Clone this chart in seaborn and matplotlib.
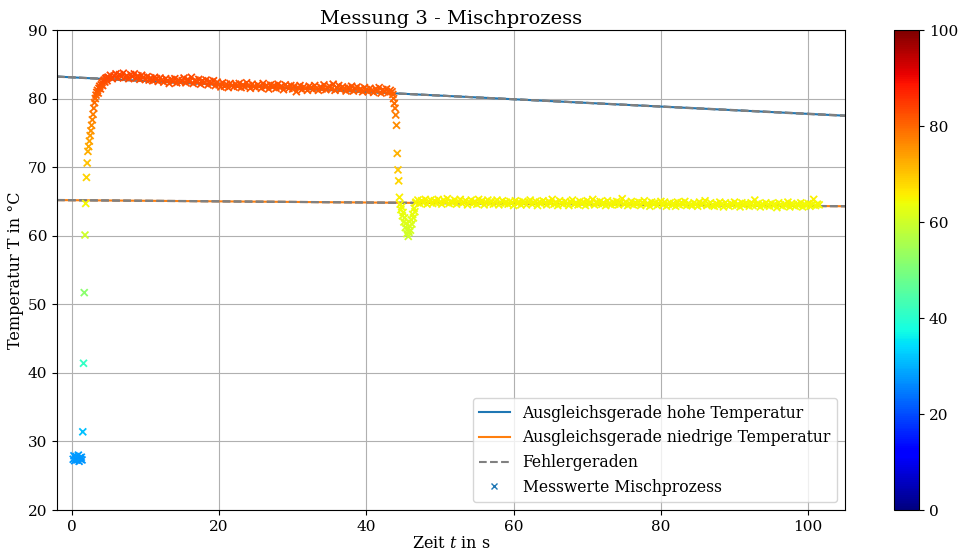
import numpy as np
import matplotlib
matplotlib.use("Agg")
import matplotlib.pyplot as plt
from matplotlib.lines import Line2D
import seaborn as sns
import pandas as pd

plt.rcParams['font.family'] = ['DejaVu Serif']
plt.rcParams['mathtext.fontset'] = 'dejavuserif'
plt.rcParams['font.size'] = 11

# ---- data ----
# cold phase: t0 = 0.2 s, dt = 0.1 s
t_kalt_start, dt_kalt = 0.2, 0.1
T_kalt = [27.4, 27.9, 27.2, 27.6, 27.8, 27.3, 27.5, 28.0, 27.1, 27.6, 27.4, 27.7, 27.3]

# rise: t0 = 1.5 s, dt = 0.1 s
t_anstieg_start, dt_anstieg = 1.5, 0.1
T_anstieg = [31.4, 41.4, 51.7, 60.1, 64.7, 68.5, 70.6, 72.3, 73.0, 73.8,
             74.6, 75.3, 76.1, 76.9, 77.7, 78.6, 79.4, 80.0, 80.5, 80.9,
             81.2, 80.8, 81.5, 81.8, 81.4, 82.0, 82.3, 81.9, 82.5, 82.7,
             82.4, 82.9, 83.0, 82.6, 83.1]

# hot plateau: t0 = 5.0 s, dt = 0.25 s
t_hoch_start, dt_hoch = 5.0, 0.25
T_hoch = [83.1, 83.4, 82.9, 83.3, 83.6, 83.0, 83.5, 83.2, 83.7, 83.1,
          83.3, 82.9, 83.5, 83.2, 83.6, 83.0, 83.3, 82.8, 83.4, 83.1,
          82.8, 83.2, 82.7, 83.0, 82.6, 83.1, 82.9, 82.5, 83.0, 82.7,
          82.4, 82.9, 82.6, 82.2, 82.8, 82.5, 82.9, 82.3, 82.7, 82.4,
          82.6, 83.0, 82.3, 82.8, 82.5, 83.1, 82.2, 82.7, 82.4, 82.8,
          82.1, 82.6, 82.3, 82.7, 82.0, 82.5, 82.2, 82.6, 81.9, 82.4,
          82.0, 81.7, 82.3, 81.8, 82.1, 81.6, 82.2, 81.9, 81.7, 82.1,
          81.8, 82.2, 81.6, 82.0, 81.7, 82.3, 81.9, 81.5, 82.1, 81.8,
          81.6, 82.0, 81.8, 81.5, 82.2, 81.7, 81.9, 81.4, 82.0, 81.7,
          81.9, 81.5, 82.1, 81.6, 81.8, 81.3, 82.0, 81.7, 81.5, 81.9,
          81.4, 81.8, 81.0, 81.6, 81.9, 81.3, 81.7, 81.5, 81.2, 81.8,
          81.6, 81.3, 81.9, 81.5, 81.2, 81.7, 81.4, 82.0, 81.3, 81.6,
          81.8, 81.4, 82.1, 81.2, 81.6, 81.9, 81.3, 81.7, 81.5, 81.1,
          81.6, 81.3, 81.8, 81.1, 81.5, 81.7, 81.2, 81.4, 81.0, 81.6,
          81.3, 81.0, 81.5, 81.2, 80.9, 81.4, 81.1, 81.6, 80.8, 81.3,
          81.0, 81.4, 80.9, 81.2, 81.0]

# mixing drop: t0 = 43.6 s, dt = 0.1 s
t_abfall_start, dt_abfall = 43.6, 0.1
T_abfall = [80.6, 80.0, 79.3, 78.6, 77.6, 76.1, 72.0, 69.6, 68.0, 65.6,
            64.6, 63.8, 64.2, 62.9, 63.4, 62.0, 62.6, 61.2, 61.8, 60.3,
            60.9, 59.9, 60.5, 61.4, 60.8, 62.3, 61.7, 63.1, 62.6, 64.0,
            63.5, 64.8]

# mixed plateau: t0 = 46.75 s, dt = 0.25 s
t_tief_start, dt_tief = 46.75, 0.25
T_tief = [64.9, 65.2, 64.7, 65.1, 64.8, 65.3, 64.6, 65.0, 65.2, 64.7,
          65.1, 64.8, 65.3, 64.9, 64.6, 65.2, 64.9, 65.4, 64.7, 65.0,
          64.8, 65.2, 64.6, 65.0, 65.3, 64.7, 64.9, 65.1, 64.5, 64.9,
          65.2, 64.7, 65.0, 64.6, 65.3, 64.8, 65.1, 64.5, 64.9, 65.2,
          64.7, 65.0, 64.6, 64.9, 65.2, 64.5, 64.8, 65.1, 64.7, 64.9,
          64.6, 65.0, 64.8, 64.4, 65.1, 64.7, 64.9, 64.5, 65.0, 64.8,
          64.5, 64.9, 65.2, 64.6, 64.8, 65.0, 64.4, 64.9, 64.7, 65.1,
          64.8, 64.5, 65.0, 64.7, 65.3, 64.6, 64.9, 64.4, 65.1, 64.8,
          64.6, 65.0, 64.7, 64.4, 64.9, 65.2, 64.6, 64.8, 64.5, 65.0,
          64.7, 64.9, 64.4, 65.1, 64.6, 64.8, 65.3, 64.5, 64.9, 64.7,
          65.0, 64.6, 64.8, 64.4, 65.1, 64.7, 64.5, 64.9, 64.6, 65.0,
          64.5, 64.8, 65.4, 64.6, 64.9, 64.4, 64.7, 65.0, 64.5, 64.8,
          64.6, 64.9, 64.4, 64.8, 65.1, 64.5, 64.7, 64.3, 64.9, 64.6,
          64.8, 64.4, 64.7, 65.0, 64.5, 64.9, 64.3, 64.6, 64.8, 64.5,
          64.7, 64.3, 64.9, 64.5, 64.8, 64.6, 65.0, 64.4, 64.7, 64.5,
          64.4, 64.8, 64.6, 64.3, 64.9, 64.5, 64.7, 65.1, 64.4, 64.6,
          64.8, 64.5, 64.3, 64.7, 64.4, 64.9, 64.6, 64.2, 64.8, 64.5,
          64.3, 64.7, 64.5, 64.9, 64.4, 64.6, 64.2, 64.8, 64.5, 64.7,
          64.6, 64.3, 64.8, 64.4, 65.2, 64.5, 64.7, 64.2, 64.6, 64.4,
          64.8, 64.5, 64.3, 64.7, 64.4, 64.6, 64.1, 64.8, 64.5, 64.3,
          64.6, 64.4, 64.9, 64.2, 64.7, 64.5, 64.3, 64.6, 64.4, 64.8,
          64.2, 64.6, 64.4, 64.7, 64.3, 64.5, 65.3, 64.4, 64.6, 64.5]

# linear fits (slope, intercept) and error lines
fit_hoch = (-0.0533, 83.10)
fit_tief = (-0.0084, 65.18)
fehler_hoch = [(-0.0528, 83.08), (-0.0538, 83.12)]
fehler_tief = [(-0.0081, 65.16), (-0.0087, 65.20)]
x_range = (-2, 105)

segments = [(t_kalt_start, dt_kalt, T_kalt), (t_anstieg_start, dt_anstieg, T_anstieg),
            (t_hoch_start, dt_hoch, T_hoch), (t_abfall_start, dt_abfall, T_abfall),
            (t_tief_start, dt_tief, T_tief)]
ts, Ts = [], []
for t0, dt, vals in segments:
    ts.extend(t0 + dt * np.arange(len(vals)))
    Ts.extend(vals)
df = pd.DataFrame({"t": ts, "T": Ts})

# ---- figure ----
fig = plt.figure(figsize=(9.58, 5.54), dpi=100)
ax = fig.add_axes([57/958, 44/554, 788/958, 480/554])
cax = fig.add_axes([894/958, 44/554, 25/958, 480/554])

xs = np.linspace(*x_range, 200)
ax.plot(xs, fit_hoch[0]*xs + fit_hoch[1], color='C0', lw=1.5, label='Ausgleichsgerade hohe Temperatur')
ax.plot(xs, fit_tief[0]*xs + fit_tief[1], color='C1', lw=1.5, label='Ausgleichsgerade niedrige Temperatur')
for i, (m, b) in enumerate(fehler_hoch + fehler_tief):
    ax.plot(xs, m*xs + b, color='gray', ls='--', lw=1.5, label='Fehlergeraden' if i == 0 else None)

jet = matplotlib.colormaps['jet']
norm = plt.Normalize(0, 100)
sns.scatterplot(data=df, x="t", y="T", hue="T", palette=jet, hue_norm=norm,
                marker='x', s=25, linewidth=1.3, legend=False, ax=ax, zorder=3)

sm = plt.cm.ScalarMappable(cmap=jet, norm=norm)
cb = fig.colorbar(sm, cax=cax)
cb.set_ticks([0, 20, 40, 60, 80, 100])

ax.set_xlim(*x_range)
ax.set_ylim(20, 90)
ax.grid(True)
ax.tick_params(labelsize=11)
cb.ax.tick_params(labelsize=11)
ax.set_title('Messung 3 - Mischprozess', fontsize=14, pad=4)
ax.set_xlabel('Zeit $t$ in s', fontsize=11.5, labelpad=1)
ax.set_ylabel('Temperatur T in °C', fontsize=11.5, labelpad=3)

handles, labels = ax.get_legend_handles_labels()
handles.append(Line2D([], [], ls='', marker='x', color='C0', markersize=5))
labels.append('Messwerte Mischprozess')
ax.legend(handles, labels, loc='lower right', fontsize=11.25)

fig.savefig('out.png', dpi=100)
